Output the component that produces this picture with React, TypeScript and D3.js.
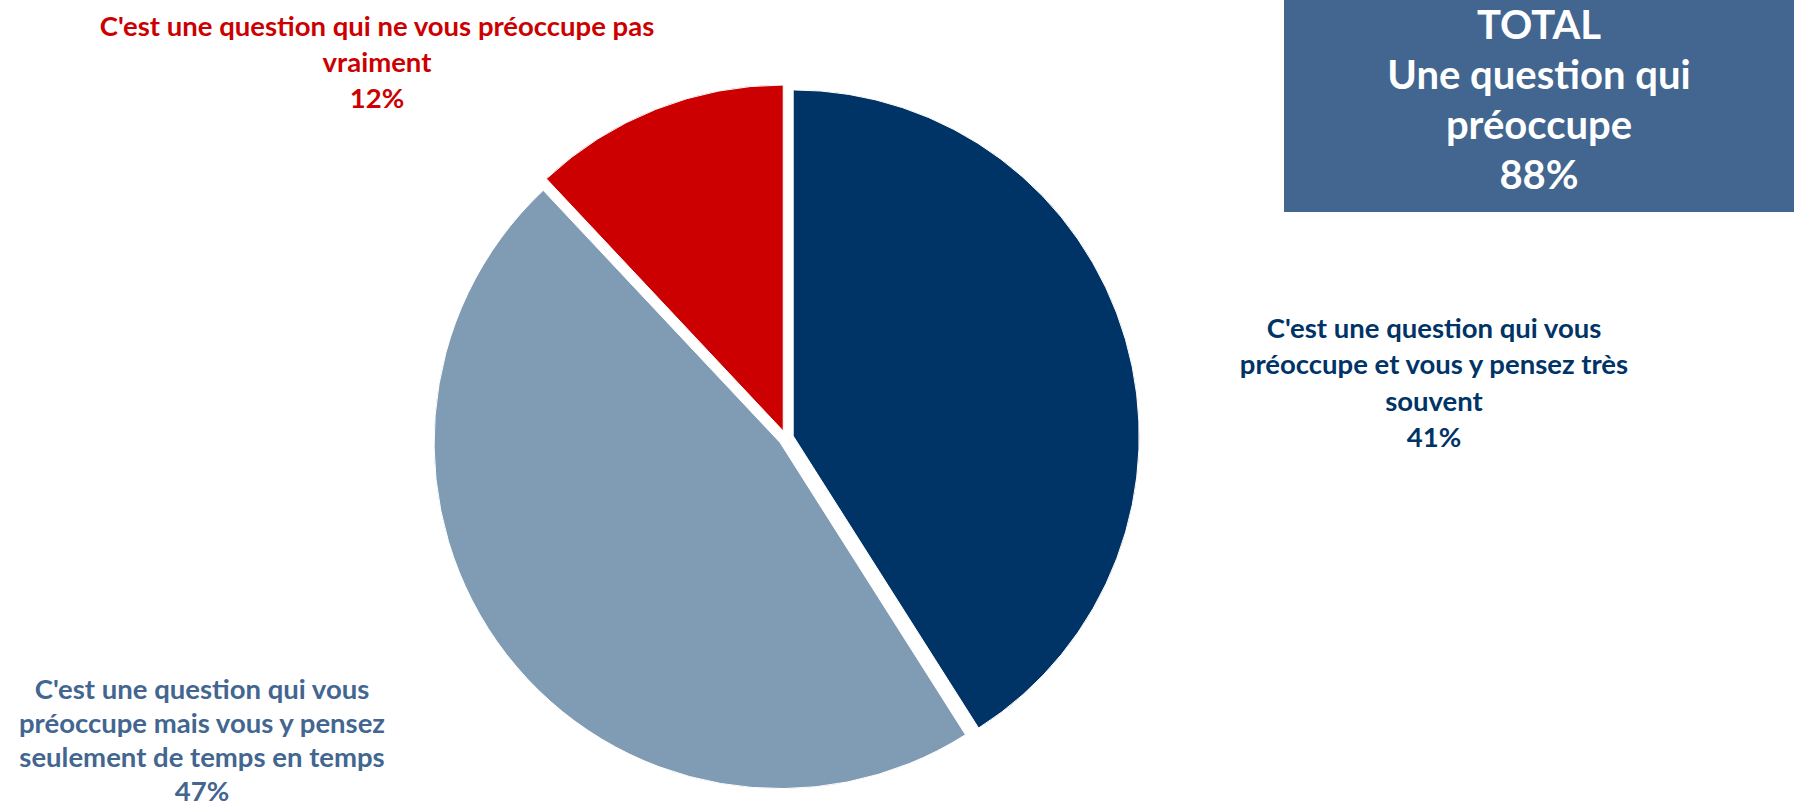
import React from "react";
import * as d3 from "d3";

const categories = [
  "C'est une question qui vous préoccupe et vous y pensez très souvent",
  "C'est une question qui vous préoccupe mais vous y pensez seulement de temps en temps",
  "C'est une question qui ne vous préoccupe pas vraiment",
];
const values = [41, 47, 12];
const colors = ["#003366", "#809BB4", "#CC0000"];
const labelColors = ["#003366", "#426690", "#CC0000"];
const labelLines = [
  ["C'est une question qui vous", "préoccupe et vous y pensez très", "souvent", "41%"],
  ["C'est une question qui vous", "préoccupe mais vous y pensez", "seulement de temps en temps", "47%"],
  ["C'est une question qui ne vous préoccupe pas", "vraiment", "12%"],
];
const labelPos = [
  { x: 1434, y: 328, step: 36.5 },
  { x: 202, y: 689, step: 34 },
  { x: 377, y: 26, step: 36 },
];
const totalLines = ["TOTAL", "Une question qui", "préoccupe", "88%"];

const W = 1794;
const H = 807;
const cx = 786;
const cy = 438;
const R = 346;
const explode = 7.5;
const font = "Lato, 'Noto Sans', sans-serif";

export default function App() {
  const pie = d3.pie<number>().sort(null).value((d) => d)(values);
  const arc = d3.arc<d3.PieArcDatum<number>>().innerRadius(0).outerRadius(R);
  const labelSize = 27.5;
  const boxSize = 40;
  const boxStep = 50;

  return (
    <svg width={W} height={H} style={{ position: "absolute", left: 0, top: 0 }}>
      <rect x={0} y={0} width={W} height={H} fill="#ffffff" />
      <g transform={`translate(${cx},${cy})`}>
        {pie.map((p, i) => {
          const mid = (p.startAngle + p.endAngle) / 2;
          const dx = Math.sin(mid) * explode;
          const dy = -Math.cos(mid) * explode;
          return (
            <path
              key={i}
              d={arc(p) || ""}
              transform={`translate(${dx},${dy})`}
              fill={colors[i]}
              stroke="#ffffff"
              strokeWidth={1}
            />
          );
        })}
      </g>
      {labelLines.map((lines, i) => (
        <text
          key={i}
          fontFamily={font}
          fontWeight={700}
          fontSize={labelSize}
          fill={labelColors[i]}
          textAnchor="middle"
        >
          {lines.map((l, j) => (
            <tspan key={j} x={labelPos[i].x} y={labelPos[i].y + j * labelPos[i].step} dy="0.35em">
              {l}
            </tspan>
          ))}
        </text>
      ))}
      <rect x={1284} y={0} width={W - 1284} height={212} fill="#426690" />
      <text fontFamily={font} fontWeight={700} fontSize={boxSize} fill="#ffffff" textAnchor="middle">
        {totalLines.map((l, j) => (
          <tspan key={j} x={1539} y={25 + j * boxStep} dy="0.35em">
            {l}
          </tspan>
        ))}
      </text>
    </svg>
  );
}
